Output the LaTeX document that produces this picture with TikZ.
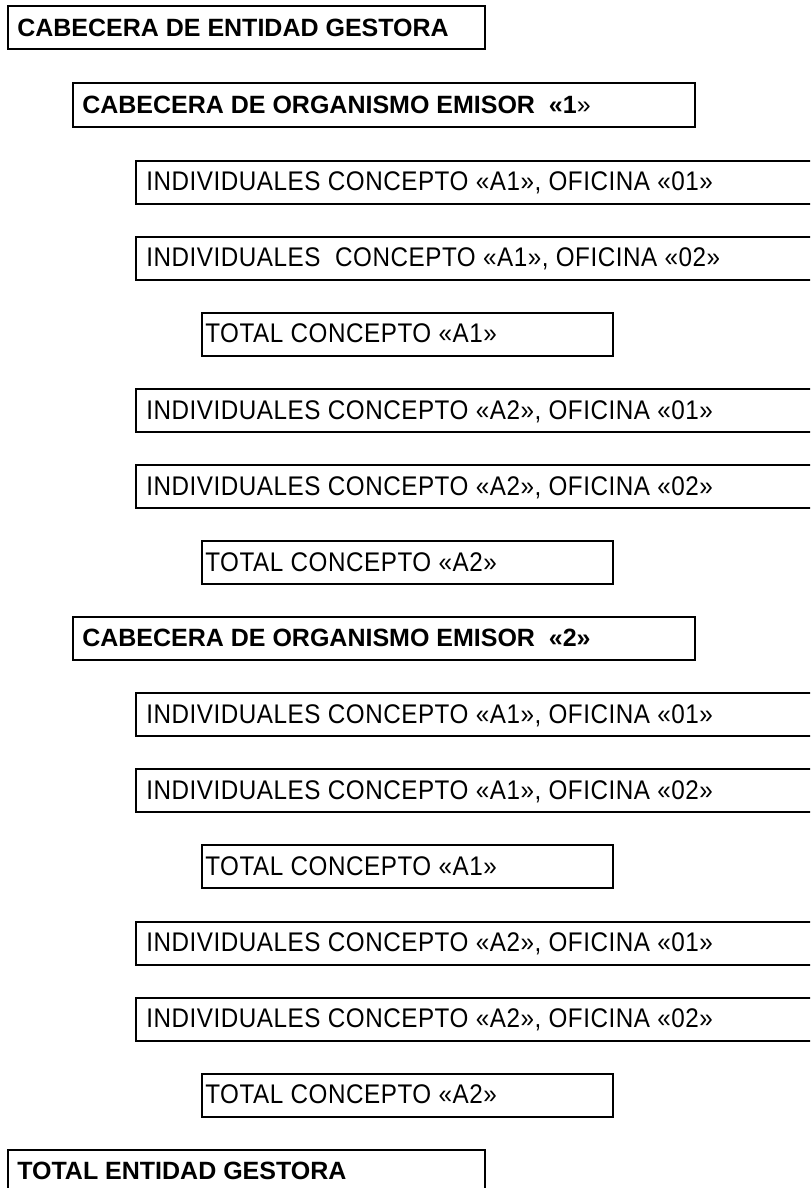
\documentclass[tikz,border=0pt]{standalone}
\usepackage{fontspec}
\setmainfont{Liberation Sans}
\newfontfamily\regfont[FakeStretch=0.9,LetterSpace=2]{Liberation Sans}
\begin{document}
\begin{tikzpicture}[x=0.75pt,y=-0.75pt,
  bx/.style={draw=black,line width=1.5pt,rectangle,anchor=north west,inner sep=0pt,minimum height=32.25pt},
  bigbx/.style={bx,minimum width=357.75pt},
  orgbx/.style={bx,minimum width=466.5pt},
  indbx/.style={bx,minimum width=525pt},
  totbx/.style={bx,minimum width=308.25pt},
  lbl/.style={anchor=base west,inner sep=0pt,font=\regfont\fontsize{20.2pt}{24pt}\selectfont,yshift=-23.4pt},
  boldlbl/.style={anchor=base west,inner sep=0pt,yshift=-22.9pt,xshift=7.5pt,font=\fontsize{18.75pt}{22pt}\selectfont\bfseries},
  indlbl/.style={lbl,xshift=8.25pt},
  totlbl/.style={lbl,xshift=3pt}]
\useasboundingbox (0,0) rectangle (810,1188);
\clip (0,0) rectangle (810,1188);
\node[bigbx] (b1) at (7,5.5) {};
\node[orgbx] (b2) at (72,82.5) {};
\node[indbx] (b3) at (135,159.5) {};
\node[indbx] (b4) at (135,235.6) {};
\node[totbx] (b5) at (201,311.7) {};
\node[indbx] (b6) at (135,387.8) {};
\node[indbx] (b7) at (135,463.9) {};
\node[totbx] (b8) at (201,540.0) {};
\node[orgbx] (b9) at (72,616.1) {};
\node[indbx] (b10) at (135,692.2) {};
\node[indbx] (b11) at (135,768.3) {};
\node[totbx] (b12) at (201,844.4) {};
\node[indbx] (b13) at (135,920.5) {};
\node[indbx] (b14) at (135,996.6) {};
\node[totbx] (b15) at (201,1072.7) {};
\node[bigbx] (b16) at (7,1148.8) {};
\node[boldlbl] (t1) at (b1.north west) {CABECERA DE ENTIDAD GESTORA};
\node[boldlbl] (t2) at (b2.north west) {CABECERA DE ORGANISMO EMISOR~ «1\textmd{»}};
\node[indlbl] (t3) at (b3.north west) {INDIVIDUALES CONCEPTO «A1», OFICINA «01»};
\node[indlbl] (t4) at (b4.north west) {INDIVIDUALES~ CONCEPTO «A1», OFICINA «02»};
\node[totlbl] (t5) at (b5.north west) {TOTAL CONCEPTO «A1»};
\node[indlbl] (t6) at (b6.north west) {INDIVIDUALES CONCEPTO «A2», OFICINA «01»};
\node[indlbl] (t7) at (b7.north west) {INDIVIDUALES CONCEPTO «A2», OFICINA «02»};
\node[totlbl] (t8) at (b8.north west) {TOTAL CONCEPTO «A2»};
\node[boldlbl] (t9) at (b9.north west) {CABECERA DE ORGANISMO EMISOR~ «2»};
\node[indlbl] (t10) at (b10.north west) {INDIVIDUALES CONCEPTO «A1», OFICINA «01»};
\node[indlbl] (t11) at (b11.north west) {INDIVIDUALES CONCEPTO «A1», OFICINA «02»};
\node[totlbl] (t12) at (b12.north west) {TOTAL CONCEPTO «A1»};
\node[indlbl] (t13) at (b13.north west) {INDIVIDUALES CONCEPTO «A2», OFICINA «01»};
\node[indlbl] (t14) at (b14.north west) {INDIVIDUALES CONCEPTO «A2», OFICINA «02»};
\node[totlbl] (t15) at (b15.north west) {TOTAL CONCEPTO «A2»};
\node[boldlbl] (t16) at (b16.north west) {TOTAL ENTIDAD GESTORA};
\end{tikzpicture}
\end{document}
